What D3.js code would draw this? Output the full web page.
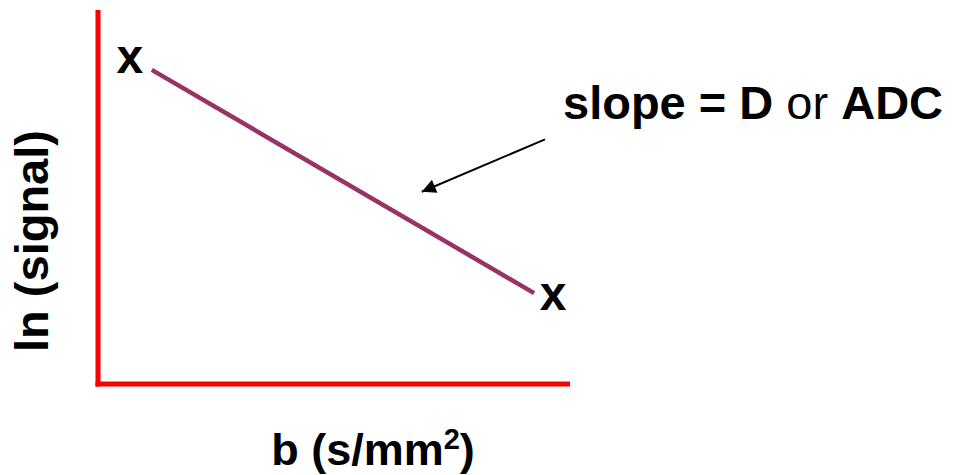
<!DOCTYPE html>
<html>
<head>
<meta charset="utf-8">
<script src="https://cdn.jsdelivr.net/npm/d3@7"></script>
<style>
  html, body { margin: 0; padding: 0; background: #ffffff; }
  svg { display: block; }
  text { font-family: "Liberation Sans", Arial, Helvetica, sans-serif; font-weight: bold; fill: #000; }
</style>
</head>
<body>
<svg id="chart" width="956" height="475"></svg>
<script>
// Diffusion signal decay: ln(signal) against b-value (arbitrary units)
const bValues = [11.4, 92.4];
const lnSignal = [84, 24.3];
const pointLabels = ["x", "x"];

// Annotation arrow pointing at the fitted line (data units)
const arrowFrom = [94.7, 65.4];
const arrowTo = [68.6, 51.4];

const xTitle = "b (s/mm";
const xTitleSup = "2";
const yTitle = "ln (signal)";

const width = 956, height = 475;
const margin = { left: 98, right: 386, top: 10, bottom: 91 };

const svg = d3.select("#chart");

const x = d3.scaleLinear().domain([0, 100]).range([margin.left, width - margin.right]);
const y = d3.scaleLinear().domain([0, 100]).range([height - margin.bottom, margin.top]);

// Axes: plain red lines without ticks
const axisColor = "#ff0000";
const xAxis = d3.axisBottom(x).tickValues([]).tickSizeOuter(0);
const yAxis = d3.axisLeft(y).tickValues([]).tickSizeOuter(0);

svg.append("g")
  .attr("transform", `translate(0,${y(0)})`)
  .call(xAxis)
  .call(g => g.select(".domain")
    .attr("stroke", axisColor).attr("stroke-width", 5)
    .attr("d", `M${x(0) - 2.5},0H${x(100)}`));

svg.append("g")
  .attr("transform", `translate(${x(0)},0)`)
  .call(yAxis)
  .call(g => g.select(".domain")
    .attr("stroke", axisColor).attr("stroke-width", 5)
    .attr("d", `M0,${y(100)}V${y(0) + 2.5}`));

// Fitted line
const pts = bValues.map((b, i) => [b, lnSignal[i]]);
svg.append("path")
  .datum(pts)
  .attr("fill", "none")
  .attr("stroke", "#993366")
  .attr("stroke-width", 4.5)
  .attr("d", d3.line().x(d => x(d[0])).y(d => y(d[1])));

// "x" markers at the two measured points
const markerOffsets = [[-22, 3], [19, 17]];
svg.selectAll("text.pt")
  .data(pts)
  .join("text")
  .attr("class", "pt")
  .attr("x", (d, i) => x(d[0]) + markerOffsets[i][0])
  .attr("y", (d, i) => y(d[1]) + markerOffsets[i][1])
  .attr("text-anchor", "middle")
  .style("font-size", "48px")
  .text((d, i) => pointLabels[i]);

// Arrow annotation
svg.append("defs").append("marker")
  .attr("id", "head")
  .attr("viewBox", "0 0 10 10")
  .attr("refX", 10).attr("refY", 5)
  .attr("markerWidth", 8).attr("markerHeight", 7)
  .attr("markerUnits", "strokeWidth")
  .attr("orient", "auto")
  .append("path")
  .attr("d", "M0,0L10,5L0,10Z")
  .attr("fill", "#000");

svg.append("line")
  .attr("x1", x(arrowFrom[0])).attr("y1", y(arrowFrom[1]))
  .attr("x2", x(arrowTo[0])).attr("y2", y(arrowTo[1]))
  .attr("stroke", "#000")
  .attr("stroke-width", 2)
  .attr("marker-end", "url(#head)");

// Slope annotation text
const slope = svg.append("text")
  .attr("x", 563).attr("y", 119)
  .style("font-size", "47px");
slope.append("tspan").text("slope = D ");
slope.append("tspan").style("font-weight", "normal").text("or ");
slope.append("tspan").text("ADC");

// Axis titles
const xt = svg.append("text")
  .attr("x", 373).attr("y", 465)
  .attr("text-anchor", "middle")
  .style("font-size", "45px");
xt.append("tspan").text(xTitle);
xt.append("tspan").attr("dy", -16).style("font-size", "29px").text(xTitleSup);
xt.append("tspan").attr("dy", 16).text(")");

svg.append("text")
  .attr("transform", `translate(48,241) rotate(-90)`)
  .attr("text-anchor", "middle")
  .style("font-size", "47px")
  .text(yTitle);
</script>
</body>
</html>
